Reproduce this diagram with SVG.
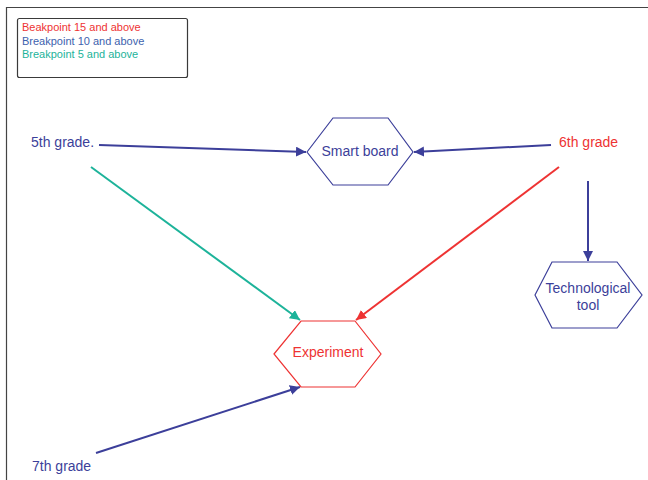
<svg xmlns="http://www.w3.org/2000/svg" width="648" height="480" viewBox="0 0 648 480">
  <style>
    text { font-family: "Liberation Sans", Arial, sans-serif; }
    .legend { font-size: 11px; }
    .lbl { font-size: 14px; }
    .blue { fill: #3c3f9a; }
    .red { fill: #ee3333; }
    .hex { fill: #ffffff; stroke-width: 1.2; }
    .edge { fill: none; stroke-width: 2; }
  </style>
  <defs>
    <marker id="ahBlue" viewBox="0 0 10 10" refX="10" refY="5" markerWidth="5" markerHeight="5" orient="auto" markerUnits="strokeWidth">
      <path d="M0,0 L10,5 L0,10 z" fill="#3c3f9a"/>
    </marker>
    <marker id="ahRed" viewBox="0 0 10 10" refX="10" refY="5" markerWidth="5" markerHeight="5" orient="auto" markerUnits="strokeWidth">
      <path d="M0,0 L10,5 L0,10 z" fill="#ee3333"/>
    </marker>
    <marker id="ahTeal" viewBox="0 0 10 10" refX="10" refY="5" markerWidth="5" markerHeight="5" orient="auto" markerUnits="strokeWidth">
      <path d="M0,0 L10,5 L0,10 z" fill="#1db39a"/>
    </marker>
  </defs>

  <rect width="648" height="480" fill="#ffffff"/>
  <!-- page frame (top and left edges) -->
  <path d="M6.5,480 L6.5,7.5 L648,7.5" fill="none" stroke="#444444" stroke-width="1.2"/>

  <!-- legend -->
  <g id="legend">
    <rect x="17.5" y="18.5" width="170" height="59" rx="2" fill="#ffffff" stroke="#3a3a3a" stroke-width="1.2"/>
    <text class="legend" x="22" y="31" fill="#ee3333">Beakpoint 15 and above</text>
    <text class="legend" x="22" y="45" fill="#3d62ae">Breakpoint 10 and above</text>
    <text class="legend" x="22" y="58" fill="#1db39a">Breakpoint 5 and above</text>
  </g>

  <!-- connectors -->
  <g id="connectors">
    <line class="edge" x1="99" y1="145" x2="306" y2="152" stroke="#3c3f9a" marker-end="url(#ahBlue)"/>
    <line class="edge" x1="551" y1="145" x2="414" y2="152" stroke="#3c3f9a" marker-end="url(#ahBlue)"/>
    <line class="edge" x1="91" y1="167" x2="300" y2="320" stroke="#1db39a" marker-end="url(#ahTeal)"/>
    <line class="edge" x1="559" y1="167" x2="356" y2="320" stroke="#ee3333" marker-end="url(#ahRed)"/>
    <line class="edge" x1="588" y1="181" x2="588" y2="261" stroke="#3c3f9a" marker-end="url(#ahBlue)"/>
    <line class="edge" x1="96" y1="453" x2="300" y2="387" stroke="#3c3f9a" marker-end="url(#ahBlue)"/>
  </g>

  <!-- grade labels -->
  <g id="grade5">
    <text class="lbl blue" x="31" y="147">5th grade.</text>
  </g>
  <g id="grade6">
    <text class="lbl red" x="559" y="147">6th grade</text>
  </g>
  <g id="grade7">
    <text class="lbl blue" x="32" y="471">7th grade</text>
  </g>

  <!-- resource nodes -->
  <g id="smartBoard">
    <polygon class="hex" points="307,152 333,118 388,118 413,152 388,185 333,185" stroke="#3c3f9a"/>
    <text class="lbl blue" x="360" y="156" text-anchor="middle">Smart board</text>
  </g>
  <g id="technologicalTool">
    <polygon class="hex" points="535,295 552,262 617,262 642,295 617,328 552,328" stroke="#3c3f9a"/>
    <text class="lbl blue" x="588" y="293" text-anchor="middle">Technological</text>
    <text class="lbl blue" x="588" y="310" text-anchor="middle">tool</text>
  </g>
  <g id="experiment">
    <polygon class="hex" points="274,354 301,321 355,321 381,354 355,387 301,387" stroke="#ee3333"/>
    <text class="lbl red" x="328" y="357" text-anchor="middle">Experiment</text>
  </g>
</svg>
